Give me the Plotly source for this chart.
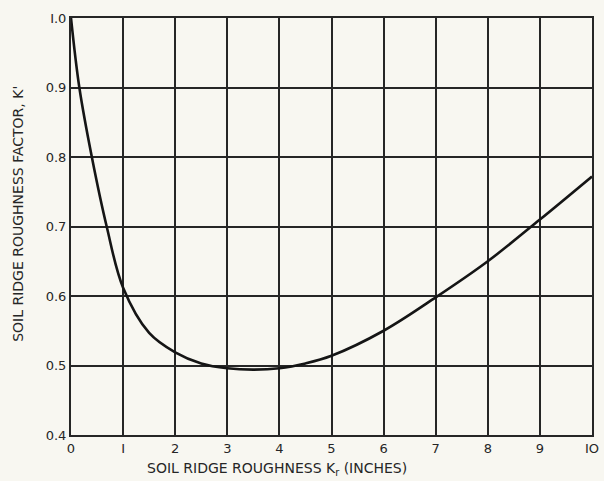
import plotly.graph_objects as go

ridge_roughness = [0, 0.16, 0.40, 0.685, 1.0, 1.5, 2.0, 2.5, 3.0, 3.5, 4.0, 4.5,
                   5.0, 6.0, 7.0, 8.0, 9.0, 10.0]
roughness_factor = [1.0, 0.9, 0.8, 0.7, 0.612, 0.547, 0.519, 0.503, 0.496,
                    0.494, 0.496, 0.503, 0.514, 0.55, 0.598, 0.65, 0.71, 0.772]

x_ticks = list(range(0, 11))
x_tick_text = ["0", "I", "2", "3", "4", "5", "6", "7", "8", "9", "IO"]
y_ticks = [0.4, 0.5, 0.6, 0.7, 0.8, 0.9, 1.0]
y_tick_text = ["0.4", "0.5", "0.6", "0.7", "0.8", "0.9", "I.0"]

x_title = "SOIL RIDGE ROUGHNESS K<sub>r</sub> (INCHES)"
y_title = "SOIL RIDGE ROUGHNESS FACTOR, K'"

ink = "#262626"
paper = "#f8f7f1"

fig = go.Figure()
fig.add_trace(go.Scatter(
    x=ridge_roughness, y=roughness_factor, mode="lines",
    line=dict(color="#151515", width=2.6, shape="spline", smoothing=1.0),
    showlegend=False, hoverinfo="skip",
))

fig.update_layout(
    width=604, height=481,
    margin=dict(l=71, r=12, t=18, b=46),
    paper_bgcolor=paper, plot_bgcolor=paper,
    font=dict(family="DejaVu Sans", color=ink, size=12),
)
fig.update_xaxes(
    range=[0, 10], tickvals=x_ticks, ticktext=x_tick_text,
    showgrid=True, gridcolor=ink, gridwidth=1.6,
    showline=True, linecolor=ink, linewidth=2, mirror=True,
    ticks="", tickfont=dict(size=13, color=ink), zeroline=False,
    automargin=False,
)
fig.update_yaxes(
    range=[0.4, 1.0], tickvals=y_ticks, ticktext=y_tick_text,
    showgrid=True, gridcolor=ink, gridwidth=1.6,
    showline=True, linecolor=ink, linewidth=2, mirror=True,
    ticks="", tickfont=dict(size=13, color=ink), zeroline=False,
    automargin=False,
)
fig.add_annotation(
    text=x_title, xref="paper", yref="paper", x=0.395, y=-0.055,
    xanchor="center", yanchor="top", showarrow=False,
    font=dict(size=14, color=ink),
)
fig.add_annotation(
    text=y_title, xref="paper", yref="paper", x=-0.102, y=0.53,
    xanchor="center", yanchor="middle", textangle=-90, showarrow=False,
    font=dict(size=14, color=ink),
)

fig.write_html(
    "out.html",
    config={"displayModeBar": False},
    post_script="document.body.style.margin='0';document.body.style.overflow='hidden';",
)
